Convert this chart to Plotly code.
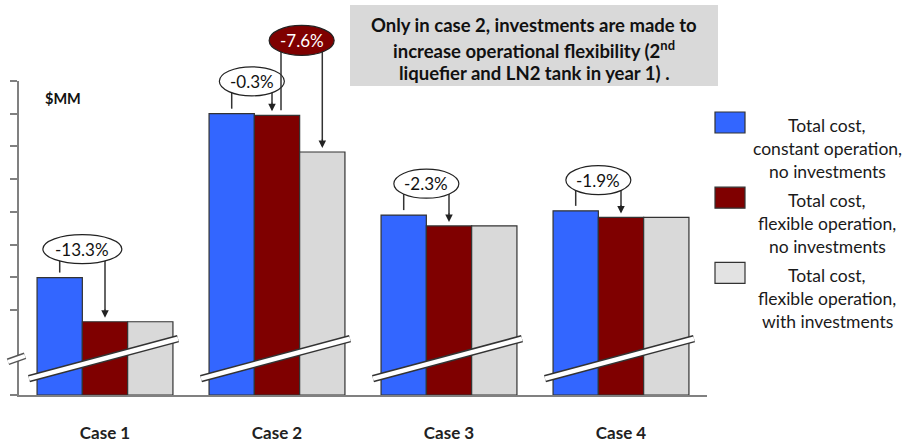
import plotly.graph_objects as go

# ── Data (broken axis, arbitrary units: one tick = one unit) ────────────────
cases = ["Case 1", "Case 2", "Case 3", "Case 4"]
series_names = [
    "Total cost,<br>constant operation,<br>no investments",
    "Total cost,<br>flexible operation,<br>no investments",
    "Total cost,<br>flexible operation,<br>with investments",
]
constant_no_inv = [3.59, 8.60, 5.50, 5.63]
flexible_no_inv = [2.24, 8.55, 5.17, 5.43]
flexible_with_inv = [2.24, 7.43, 5.17, 5.43]
colors = ["#3366ff", "#7f0000", "#d9d9d9"]
legend_colors = ["#3366ff", "#7f0000", "#e3e3e3"]

# (case, from bar, to bar, label, ellipse centre, leg shift px, dark fill)
changes = [
    (0, 0, 1, "-13.3%", 4.46, (0, 0), False),
    (1, 0, 1, "-0.3%", 9.59, (0, -5), False),
    (1, 1, 2, "-7.6%", 10.84, (4, 0), True),
    (2, 0, 1, "-2.3%", 6.46, (0, 0), False),
    (3, 0, 1, "-1.9%", 6.57, (0, 0), False),
]
ytick_vals = [0, 2.6, 3.6, 4.6, 5.6, 6.6, 7.6, 8.6, 9.6]
note_lines = [
    "Only in case 2, investments are made to",
    "increase operational flexibility (2<sup>nd</sup>",
    "liquefier and LN2 tank in year 1) .",
]

# ── Layout geometry ─────────────────────────────────────────────────────────
W, H = 908, 445
L, R, T, B = 19, 707, 81, 395
YMAX = 9.6
BARGAP = 0.21
BAR_W = (1 - BARGAP) / 3
FONT = "Lato"
series = [constant_no_inv, flexible_no_inv, flexible_with_inv]


def px_x(px):
    return (px - L) / (R - L)


def px_y(py):
    return (B - py) / (B - T)


def bar_x(case, bar, dx_px=0):
    pos = case + (bar - 1) * BAR_W
    return (pos + 0.5) / len(cases) + dx_px / (R - L)


def val_y(v, dy_px=0):
    return v / YMAX + dy_px / (B - T)


def label(x, y, text, size, color="#111111", xanchor="center"):
    return dict(xref="paper", yref="paper", x=x, y=y, text=text,
                showarrow=False, xanchor=xanchor, yanchor="middle",
                font=dict(family=FONT, size=size, color=color))


fig = go.Figure()
for vals, c in zip(series, colors):
    fig.add_trace(go.Bar(
        x=cases, y=vals, marker=dict(color=c, line=dict(color="#333333", width=1.2)),
        showlegend=False, hoverinfo="skip",
    ))

shapes = []
annotations = []

# axis breaks across each group of bars
for i in range(len(cases)):
    x0 = bar_x(i, 1, -76)
    x1 = bar_x(i, 1, 73)
    for w, c in ((7.5, "#333333"), (4.5, "white")):
        shapes.append(dict(type="line", xref="paper", yref="paper",
                           x0=x0, x1=x1, y0=val_y(0.5), y1=val_y(1.72),
                           line=dict(color=c, width=w)))
# break mark on the y axis
for w, c in ((7, "#555555"), (4, "white")):
    shapes.append(dict(type="line", xref="paper", yref="paper",
                       x0=px_x(8), x1=px_x(25), y0=px_y(361.8), y1=px_y(355.8),
                       line=dict(color=c, width=w)))

# change brackets
for case, a, b, text, ey, (sa, sb), dark in changes:
    va = series[a][case]
    vb = series[b][case]
    xa = bar_x(case, a, sa)
    xb = bar_x(case, b, sb)
    for xx, vv, gap in ((xa, va, 5), (xb, vb, 12)):
        shapes.append(dict(type="line", xref="paper", yref="paper",
                           x0=xx, x1=xx, y0=val_y(ey), y1=val_y(vv, gap),
                           line=dict(color="#333333", width=1.5)))
    annotations.append(dict(xref="paper", yref="paper", x=xb, y=val_y(vb, 4),
                            ax=0, ay=-10, text="", showarrow=True,
                            arrowhead=2, arrowsize=1, arrowwidth=1.5,
                            arrowcolor="#222222"))
    ew = 79 if len(text) > 5 else 65
    eh = 29 if not dark else 30
    xm = (xa + xb) / 2
    shapes.append(dict(type="circle", xref="paper", yref="paper",
                       x0=xm - ew / 2 / (R - L), x1=xm + ew / 2 / (R - L),
                       y0=val_y(ey, -eh / 2), y1=val_y(ey, eh / 2),
                       fillcolor="#7f0000" if dark else "white",
                       line=dict(color="#222222", width=1.2)))
    annotations.append(label(xm, val_y(ey), text, 17,
                             "white" if dark else "#111111"))

# note box
shapes.append(dict(type="rect", xref="paper", yref="paper",
                   x0=px_x(350), x1=px_x(718), y0=px_y(86), y1=px_y(5),
                   fillcolor="#d9d9d9", line=dict(width=0)))
for line, py in zip(note_lines, (25, 49.5, 73)):
    annotations.append(label(px_x(534), px_y(py), "<b>" + line + "</b>", 18.5))

# legend
for k, (name, c) in enumerate(zip(series_names, legend_colors)):
    top = 112 + k * 75.2
    shapes.append(dict(type="rect", xref="paper", yref="paper",
                       x0=px_x(715), x1=px_x(745), y0=px_y(top + 21), y1=px_y(top),
                       fillcolor=c, line=dict(color="#333333", width=1.2)))
    for j, part in enumerate(name.split("<br>")):
        annotations.append(label(px_x(827), px_y(125 + k * 75 + j * 23.3), part,
                                 17.5, "#1a1a1a"))

annotations.append(label(px_x(43), px_y(98), "<b>$MM</b>", 14.5, xanchor="left"))

fig.update_layout(
    width=W, height=H,
    margin=dict(l=L, r=W - R, t=T, b=H - B),
    plot_bgcolor="white", paper_bgcolor="white",
    barmode="group", bargap=BARGAP, bargroupgap=0,
    shapes=shapes, annotations=annotations,
    xaxis=dict(showgrid=False, showline=True, linecolor="#808080", linewidth=2,
               ticks="", tickfont=dict(family=FONT, size=17, color="#222222"),
               ticklabelstandoff=22, tickprefix="<b>", ticksuffix="</b>",
               automargin=False, fixedrange=True),
    yaxis=dict(range=[0, YMAX], showgrid=False, zeroline=False, showline=True,
               linecolor="#808080", linewidth=2, ticks="outside", ticklen=7,
               tickwidth=1.5, tickcolor="#808080", tickvals=ytick_vals,
               showticklabels=False, automargin=False, fixedrange=True),
)

# the page's default body margin would push the figure 8px down and right
fig.write_html("out.html", config={"displayModeBar": False},
               post_script="document.body.style.margin='0px';")
